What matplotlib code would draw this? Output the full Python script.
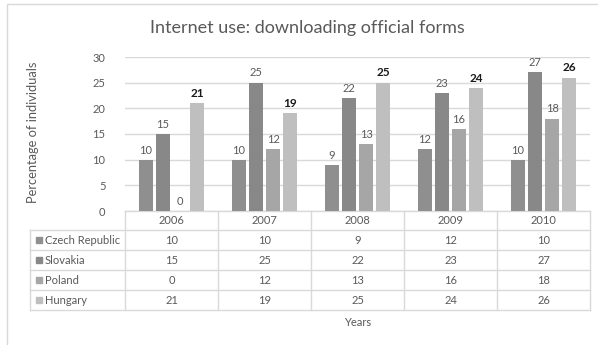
import matplotlib

matplotlib.use("Agg")

import matplotlib.pyplot as plt
from matplotlib.lines import Line2D
from matplotlib.patches import Rectangle
import numpy as np

years = ["2006", "2007", "2008", "2009", "2010"]
countries = ["Czech Republic", "Slovakia", "Poland", "Hungary"]
czech = [10, 10, 9, 12, 10]
slovakia = [15, 25, 22, 23, 27]
poland = [0, 12, 13, 16, 18]
hungary = [21, 19, 25, 24, 26]
series = [czech, slovakia, poland, hungary]

bar_colors = ["#8f8f8f", "#888888", "#a6a6a6", "#bfbfbf"]
label_colors = ["#595959", "#595959", "#595959", "#1a1a1a"]
grid_color = "#d9d9d9"
text_color = "#595959"

plt.rcParams["font.family"] = ["Lato", "DejaVu Sans"]

W, H = 598, 345
fig = plt.figure(figsize=(W / 100, H / 100), dpi=100)

# outer chart frame
fig.patches.append(
    Rectangle((7 / W, -0.05), 1.2, (1 - 4 / H) + 0.05, transform=fig.transFigure,
              fill=False, edgecolor=grid_color, linewidth=1.0)
)

left, right, bottom, top = 125 / W, 590 / W, 1 - 211 / H, 1 - 57 / H
ax = fig.add_axes([left, bottom, right - left, top - bottom])

x = np.arange(len(years))
step = 0.183
width = 0.15
for i, (vals, col, lcol) in enumerate(zip(series, bar_colors, label_colors)):
    pos = x + (i - 1.5) * step
    bars = ax.bar(pos, vals, width=width, color=col, zorder=3)
    ax.bar_label(bars, labels=[str(v) for v in vals], padding=3,
                 fontsize=8.5 if i == 3 else 8, color=lcol,
                 fontweight="bold" if i == 3 else "normal")

ax.set_xlim(-0.5, len(years) - 0.5)
ax.set_ylim(0, 30)
ax.set_yticks(range(0, 31, 5))
ax.yaxis.grid(True, color=grid_color, linewidth=1.0, zorder=0)
ax.set_xticks([])
ax.tick_params(axis="y", length=0, labelsize=8, labelcolor=text_color, pad=14)
for s in ax.spines.values():
    s.set_visible(False)

# data table under the bars: x in data units, y in pixels below the axis
px = (top - bottom) * H  # axes height in pixels
def yax(pix):
    return -pix / px

trans = ax.get_xaxis_transform()
header_h = 19
row_h = 20
table_left = -0.5 - (125 - 30) / 93
rows_y = [header_h + r * row_h for r in range(len(countries) + 1)]

line_kw = dict(color=grid_color, linewidth=1.0, transform=trans, clip_on=False)
ax.add_line(Line2D([-0.5, len(years) - 0.5], [0, 0], **line_kw))
for yy in rows_y:
    ax.add_line(Line2D([table_left, len(years) - 0.5], [yax(yy), yax(yy)], **line_kw))
for xe in np.arange(-0.5, len(years), 1.0):
    ax.add_line(Line2D([xe, xe], [0, yax(rows_y[-1])], **line_kw))
ax.add_line(Line2D([table_left, table_left], [yax(rows_y[0]), yax(rows_y[-1])], **line_kw))

for j, yr in enumerate(years):
    ax.text(j, yax(header_h / 2), yr, transform=trans, ha="center", va="center",
            fontsize=8, color=text_color)

for r, (name, vals, col) in enumerate(zip(countries, series, bar_colors)):
    yc = yax(rows_y[r] + row_h / 2)
    ax.add_patch(Rectangle((table_left + 6 / 93, yc - 3 / px), 6 / 93, 6 / px,
                           transform=trans, color=col, clip_on=False))
    ax.text(table_left + 15 / 93, yc, name, transform=trans, ha="left", va="center",
            fontsize=8, color=text_color)
    for j, v in enumerate(vals):
        ax.text(j, yc, str(v), transform=trans, ha="center", va="center",
                fontsize=8, color=text_color)

ax.text((len(years) - 1) / 2, yax(111), "Years", transform=trans, ha="center",
        va="center", fontsize=8, color=text_color)

fig.text(307 / W, 1 - 28 / H, "Internet use: downloading official forms",
         ha="center", va="center", fontsize=13, color=text_color)
fig.text(33 / W, 1 - 132 / H, "Percentage of individuals", rotation=90,
         ha="center", va="center", fontsize=9.3, color=text_color)

fig.savefig("out.png", dpi=100)
